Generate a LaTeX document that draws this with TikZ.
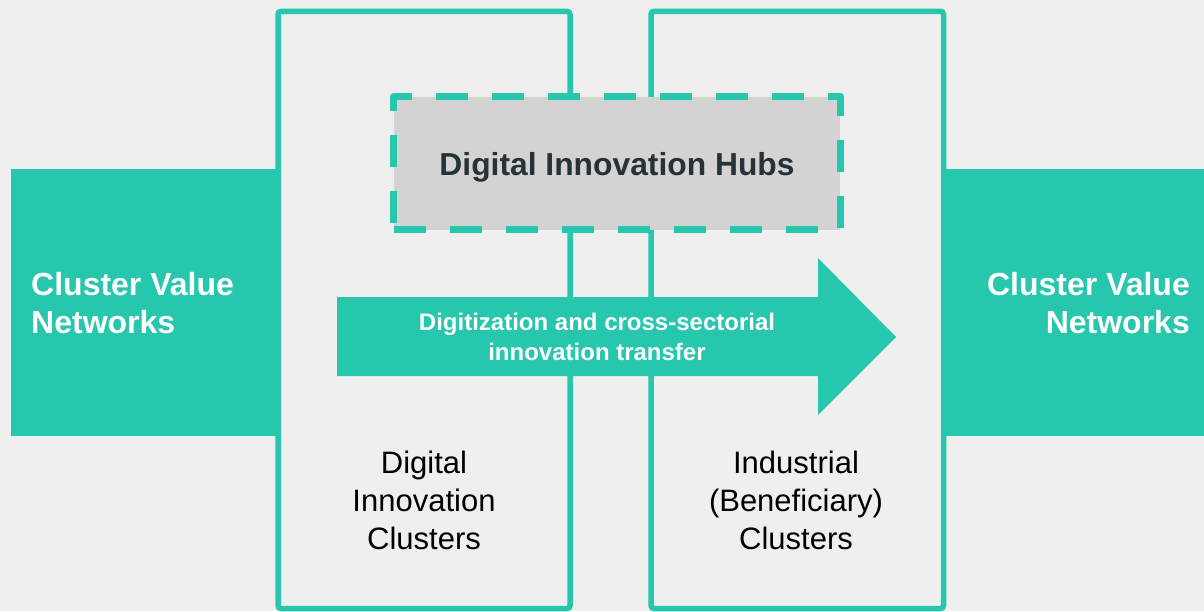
\documentclass[tikz,border=0pt]{standalone}
\usepackage{fontspec}
\setmainfont{Liberation Sans}
\definecolor{tealc}{RGB}{38,199,172}
\definecolor{bgc}{RGB}{239,239,239}
\definecolor{hubgray}{RGB}{211,211,211}
\definecolor{darktext}{RGB}{38,50,56}
\tikzset{
  cvnbox/.style={fill=tealc, inner sep=0pt, anchor=north west},
  clusterbox/.style={draw=tealc, line width=5.5pt, rounded corners=3pt, inner sep=0pt},
  cvntext/.style={text=white, font=\fontsize{32}{38}\selectfont\bfseries, inner sep=0pt},
  clustertext/.style={text=black, font=\fontsize{31}{38}\selectfont, align=center, inner sep=0pt, anchor=base},
  hubline/.style={draw=tealc, line width=6.7pt, dash pattern=on 32pt off 24pt, line join=round}
}
\begin{document}
\begin{tikzpicture}[x=1pt,y=-1pt]
\fill[bgc] (0,0) rectangle (1204,611);
\useasboundingbox (0,0) rectangle (1204,611);
% side value network blocks
\node[cvnbox, minimum width=267pt, minimum height=267pt] (cvnL) at (11,169) {};
\node[cvnbox, minimum width=265pt, minimum height=267pt] (cvnR) at (943.5,169) {};
% cluster boxes
\node[clusterbox, minimum width=292pt, minimum height=597.2pt] (dic) at (424,309.9) {};
\node[clusterbox, minimum width=292.5pt, minimum height=597.2pt] (ibc) at (797.25,309.9) {};
% arrow
\fill[tealc] (337,297) -- (818,297) -- (818,258) -- (896,337) -- (818,415) -- (818,376) -- (337,376) -- cycle;
\node[text=white, font=\fontsize{24}{29.5}\selectfont\bfseries, align=center, anchor=base, inner sep=0pt] (transfer) at (597,360.3) {Digitization and cross-sectorial\\innovation transfer};
% hub box
\node[fill=hubgray, inner sep=0pt, minimum width=446pt, minimum height=132.8pt] (hub) at (617,163.1) {};
\draw[hubline] (hub.south west) -- (hub.south east) -- (hub.north east) -- (hub.north west) -- cycle;
\node[text=darktext, font=\fontsize{31.8}{38}\selectfont\bfseries, anchor=base, inner sep=0pt] (hubtext) at (617,175) {Digital Innovation Hubs};
% texts
\node[cvntext, align=left, anchor=base west] (cvnLtext) at (31,333) {Cluster Value\\Networks};
\node[cvntext, align=right, anchor=base east] (cvnRtext) at (1190,333) {Cluster Value\\Networks};
\node[clustertext] (dictext) at (424,549) {Digital\\Innovation\\Clusters};
\node[clustertext] (ibctext) at (796,549) {Industrial\\(Beneficiary)\\Clusters};
\end{tikzpicture}
\end{document}
